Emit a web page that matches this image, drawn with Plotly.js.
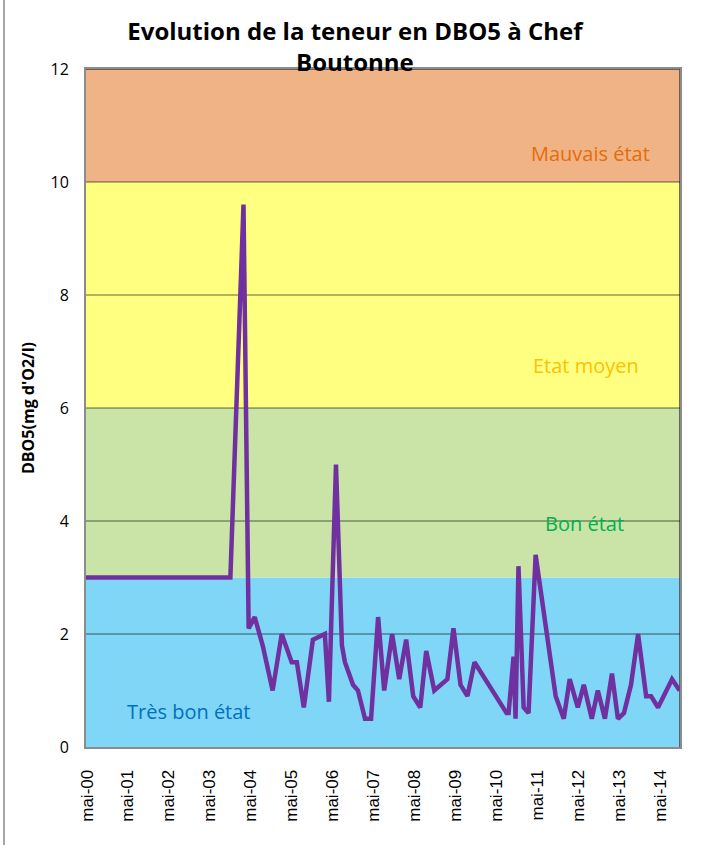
<!DOCTYPE html>
<html>
<head>
<meta charset="utf-8">
<script src="https://cdn.plot.ly/plotly-3.0.1.min.js"></script>
<style>
  html, body { margin: 0; padding: 0; background: #ffffff; }
  #chart { width: 717px; height: 845px; }
</style>
</head>
<body>
<div id="chart"></div>
<script>
// ---- Data ----
const dates = [
  '2000-04-22', '2003-11-01', '2004-02-26', '2004-04-12', '2004-06-05', '2004-08-15',
  '2004-11-12', '2005-02-01', '2005-05-01', '2005-06-16', '2005-08-17', '2005-11-06',
  '2006-02-21', '2006-03-29', '2006-05-31', '2006-07-23', '2006-08-19', '2006-10-30',
  '2006-12-13', '2007-02-14', '2007-04-09', '2007-06-11', '2007-08-04', '2007-10-14',
  '2007-12-16', '2008-02-16', '2008-04-19', '2008-06-21', '2008-08-13', '2008-10-24',
  '2009-02-18', '2009-04-13', '2009-06-15', '2009-08-16', '2009-10-18', '2010-07-31',
  '2010-08-18', '2010-10-01', '2010-10-19', '2010-11-14', '2010-12-30', '2011-02-12',
  '2011-04-16', '2011-10-12', '2011-12-23', '2012-02-14', '2012-04-26', '2012-06-19',
  '2012-08-29', '2012-10-22', '2012-12-24', '2013-02-25', '2013-04-19', '2013-06-12',
  '2013-08-14', '2013-10-16', '2013-12-27', '2014-02-09', '2014-04-12', '2014-06-23',
  '2014-08-15', '2014-10-22'
];
const dbo5 = [
  3.0, 3.0, 9.6, 2.1, 2.3, 1.8,
  1.0, 2.0, 1.5, 1.5, 0.7, 1.9,
  2.0, 0.8, 5.0, 1.8, 1.5, 1.1,
  1.0, 0.5, 0.5, 2.3, 1.0, 2.0,
  1.2, 1.9, 0.9, 0.7, 1.7, 1.0,
  1.2, 2.1, 1.1, 0.9, 1.5, 0.6,
  0.6, 1.6, 0.5, 3.2, 0.7, 0.6,
  3.4, 0.9, 0.5, 1.2, 0.7, 1.1,
  0.5, 1.0, 0.5, 1.3, 0.5, 0.6,
  1.1, 2.0, 0.9, 0.9, 0.7, 1.0,
  1.2, 1.0
];

// quality classes (bands)
const bandNames  = ['Très bon état', 'Bon état', 'Etat moyen', 'Mauvais état'];
const bandLow    = [0, 3, 6, 10];
const bandHigh   = [3, 6, 10, 12];
const bandColors = ['#80D6F7', '#C9E4A6', '#FFFF80', '#F0B385'];
const labelColors = ['#0070C0', '#00B050', '#FFC000', '#E46C0A'];
const labelX = [0.172, 0.84, 0.841, 0.85];     // paper fraction
const labelY = [0.62, 3.95, 6.75, 10.5];      // data units

const tickDates  = ['2000-05-01','2001-05-01','2002-05-01','2003-05-01','2004-05-01',
                    '2005-05-01','2006-05-01','2007-05-01','2008-05-01','2009-05-01',
                    '2010-05-01','2011-05-01','2012-05-01','2013-05-01','2014-05-01'];
const tickLabels = ['mai-00','mai-01','mai-02','mai-03','mai-04','mai-05','mai-06',
                    'mai-07','mai-08','mai-09','mai-10','mai-11','mai-12','mai-13','mai-14'];

// ---- Build figure ----
const shapes = bandNames.map((n, i) => ({
  type: 'rect', xref: 'paper', yref: 'y', x0: 0, x1: 1,
  y0: bandLow[i], y1: bandHigh[i],
  fillcolor: bandColors[i], line: { width: 0 }, layer: 'below'
}));
// outer chart frame line on the left
shapes.push({
  type: 'line', xref: 'paper', yref: 'paper',
  x0: (4 - 86) / 594, x1: (4 - 86) / 594, y0: -98 / 678, y1: 747 / 678,
  line: { color: '#A6A6A6', width: 2 }
});
// darker top and right edges of the plot frame
shapes.push({
  type: 'path', xref: 'paper', yref: 'paper',
  path: 'M 0 1 L 1 1 L 1 0',
  line: { color: '#404040', width: 1.5 }, layer: 'below'
});

const annotations = bandNames.map((n, i) => ({
  text: n, xref: 'paper', yref: 'y', x: labelX[i], y: labelY[i],
  showarrow: false, xanchor: 'center', yanchor: 'middle',
  font: { family: 'Open Sans, sans-serif', size: 20, color: labelColors[i] }
}));

const trace = {
  x: dates, y: dbo5, type: 'scatter', mode: 'lines',
  line: { color: '#7030A0', width: 4.5 }, hoverinfo: 'skip'
};

const layout = {
  width: 717, height: 845,
  margin: { l: 86, r: 37, t: 69, b: 98 },
  paper_bgcolor: '#ffffff', plot_bgcolor: '#ffffff',
  showlegend: false,
  title: {
    text: 'Evolution de la teneur en DBO5 à Chef<br>Boutonne',
    xref: 'container', x: 0.495, xanchor: 'center',
    yref: 'container', y: 1 - 40 / 845, yanchor: 'top',
    font: { family: 'Open Sans, sans-serif', size: 24, color: '#000000', weight: 'bold' }
  },
  xaxis: {
    type: 'date', range: ['2000-04-22', '2014-10-25'],
    tickvals: tickDates, ticktext: tickLabels, tickangle: -90,
    tickfont: { family: 'Liberation Sans, Arial, sans-serif', size: 17, color: '#000000' },
    ticks: '', ticklabelstandoff: 14,
    showgrid: false, zeroline: false,
    showline: true, linecolor: '#8C8C8C', linewidth: 2, mirror: true
  },
  yaxis: {
    range: [0, 12], dtick: 2, tick0: 0,
    tickfont: { family: 'Open Sans, sans-serif', size: 16, color: '#000000' },
    ticks: '', ticklabelstandoff: 12,
    showgrid: true, gridcolor: 'rgba(0,0,0,0.3)', gridwidth: 1.5,
    zeroline: false,
    showline: true, linecolor: '#8C8C8C', linewidth: 2, mirror: true,
    title: {
      text: "DBO5(mg d'O2/l)", standoff: 12,
      font: { family: 'Open Sans, sans-serif', size: 16, color: '#000000', weight: 'bold' }
    }
  },
  shapes: shapes,
  annotations: annotations
};

Plotly.newPlot('chart', [trace], layout, { displayModeBar: false, staticPlot: true });
</script>
</body>
</html>
